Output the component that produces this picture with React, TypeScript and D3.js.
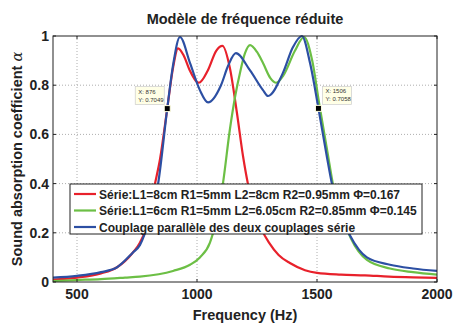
import React from 'react';
import * as d3 from 'd3';

// series: serie 1 (red), serie 2 (green), parallel coupling (blue)
const redFreq = [400, 500, 600, 667, 733, 762, 800, 821, 846, 876, 900, 921, 945, 970, 1008, 1045, 1080, 1106, 1137, 1166, 1192, 1212, 1240, 1271, 1300, 1340, 1387, 1450, 1500, 1600, 1700, 1800, 1900, 2000];
const redAlpha = [0.01, 0.018, 0.035, 0.06, 0.12, 0.16, 0.26, 0.38, 0.5, 0.705, 0.87, 0.95, 0.92, 0.86, 0.81, 0.86, 0.94, 0.96, 0.87, 0.69, 0.51, 0.4, 0.29, 0.21, 0.16, 0.11, 0.077, 0.048, 0.037, 0.03, 0.027, 0.022, 0.019, 0.017];

const greenFreq = [400, 500, 600, 700, 762, 900, 971, 1012, 1054, 1080, 1108, 1137, 1160, 1179, 1200, 1221, 1250, 1275, 1305, 1330, 1360, 1408, 1446, 1480, 1510, 1545, 1566, 1600, 1640, 1708, 1804, 1900, 2000];
const greenAlpha = [0.004, 0.008, 0.012, 0.018, 0.022, 0.045, 0.07, 0.1, 0.16, 0.25, 0.4, 0.62, 0.76, 0.85, 0.93, 0.963, 0.935, 0.89, 0.83, 0.81, 0.84, 0.94, 0.996, 0.9, 0.72, 0.52, 0.4, 0.28, 0.18, 0.09, 0.055, 0.04, 0.03];

const blueFreq = [400, 500, 600, 667, 733, 762, 800, 838, 876, 900, 929, 971, 1012, 1046, 1100, 1130, 1162, 1221, 1275, 1296, 1358, 1400, 1437, 1471, 1506, 1541, 1562, 1600, 1637, 1708, 1804, 1900, 2000];
const blueAlpha = [0.018, 0.025, 0.04, 0.06, 0.12, 0.15, 0.25, 0.4, 0.705, 0.88, 0.996, 0.89, 0.78, 0.73, 0.8, 0.88, 0.93, 0.86, 0.78, 0.756, 0.85, 0.955, 1.0, 0.89, 0.706, 0.51, 0.4, 0.27, 0.19, 0.1, 0.07, 0.055, 0.045];

const legendLabels = [
  'Série:L1=8cm R1=5mm L2=8cm R2=0.95mm Φ=0.167',
  'Série:L1=6cm R1=5mm L2=6.05cm R2=0.85mm Φ=0.145',
  'Couplage parallèle des deux couplages série',
];
const colors = ['#e8212b', '#6cbf45', '#2c4fa3'];

const xTicks = [500, 1000, 1500, 2000];
const yTicks = [0, 0.2, 0.4, 0.6, 0.8, 1];

const tips = [
  { f: 876, a: 0.7049 },
  { f: 1506, a: 0.7058 },
];

const W = 453;
const H = 324;
const margin = { top: 36, right: 16, bottom: 42, left: 53 };

const App = () => {
  const width = W - margin.left - margin.right;
  const height = H - margin.top - margin.bottom;

  const x = d3.scaleLinear().domain([400, 2000]).range([0, width]);
  const y = d3.scaleLinear().domain([0, 1]).range([height, 0]);

  const line = d3
    .line<[number, number]>()
    .x((d) => x(d[0]))
    .y((d) => y(d[1]))
    .curve(d3.curveMonotoneX);

  const series = [
    redFreq.map((f, i) => [f, redAlpha[i]] as [number, number]),
    greenFreq.map((f, i) => [f, greenAlpha[i]] as [number, number]),
    blueFreq.map((f, i) => [f, blueAlpha[i]] as [number, number]),
  ];

  const font = 'Liberation Sans, Arial, Helvetica, sans-serif';

  return (
    <svg width={W} height={H} style={{ position: 'absolute', left: 0, top: 0, background: '#fff' }} fontFamily={font}>
      <text x={245} y={24} textAnchor="middle" fontSize={14.5} fontWeight="bold" fill="#222">
        Modèle de fréquence réduite
      </text>
      <text
        transform={`translate(22,${margin.top + height / 2}) rotate(-90)`}
        textAnchor="middle"
        fontSize={14.5}
        fontWeight="bold"
        fill="#222"
      >
        Sound absorption coefficient <tspan fontFamily="DejaVu Serif, serif" fontWeight="normal" fontStyle="italic">α</tspan>
      </text>
      <text x={margin.left + width / 2} y={320} textAnchor="middle" fontSize={14.5} fontWeight="bold" fill="#222">
        Frequency (Hz)
      </text>
      <g transform={`translate(${margin.left},${margin.top})`}>
        <defs>
          <clipPath id="plot">
            <rect x={0} y={-2} width={width} height={height + 2} />
          </clipPath>
        </defs>
        {/* grid */}
        {xTicks.slice(0, -1).map((t) => (
          <line key={'gx' + t} x1={x(t)} x2={x(t)} y1={0} y2={height} stroke="#999" strokeWidth={0.8} strokeDasharray="1,2" />
        ))}
        {yTicks.slice(1, -1).map((t) => (
          <line key={'gy' + t} x1={0} x2={width} y1={y(t)} y2={y(t)} stroke="#999" strokeWidth={0.8} strokeDasharray="1,2" />
        ))}
        {/* curves */}
        <g clipPath="url(#plot)">
          {series.map((s, i) => (
            <path key={i} d={line(s) || ''} fill="none" stroke={colors[i]} strokeWidth={2.2} />
          ))}
        </g>
        {/* box */}
        <rect x={0} y={0} width={width} height={height} fill="none" stroke="#222" strokeWidth={1} />
        {/* ticks */}
        {xTicks.map((t) => (
          <g key={'tx' + t}>
            <line x1={x(t)} x2={x(t)} y1={height} y2={height - 3} stroke="#222" />
            <line x1={x(t)} x2={x(t)} y1={0} y2={3} stroke="#222" />
            <text x={x(t)} y={height + 17} textAnchor="middle" fontSize={14} fontWeight="bold" fill="#222">
              {t}
            </text>
          </g>
        ))}
        {yTicks.map((t) => (
          <g key={'ty' + t}>
            <line x1={0} x2={3} y1={y(t)} y2={y(t)} stroke="#222" />
            <line x1={width} x2={width - 3} y1={y(t)} y2={y(t)} stroke="#222" />
            <text x={-4} y={y(t) + 5} textAnchor="end" fontSize={14} fontWeight="bold" fill="#222">
              {t}
            </text>
          </g>
        ))}
        {/* data tips */}
        {tips.map((d, i) => {
          const px = x(d.f);
          const py = y(d.a);
          const bx = i === 0 ? px - 32 : px + 4;
          return (
            <g key={'tip' + i}>
              <rect x={bx} y={py - 22} width={29} height={18} fill="#ffffe6" stroke="#ccc" strokeWidth={0.7} />
              <text x={bx + 3} y={py - 15} fontSize={6} fill="#333">
                X: {d.f}
              </text>
              <text x={bx + 3} y={py - 7} fontSize={6} fill="#333">
                Y: {d.a}
              </text>
              <rect x={px - 3} y={py - 3} width={6} height={6} fill="#000" stroke="#ffffe0" strokeWidth={1} />
            </g>
          );
        })}
        {/* legend */}
        <g transform={`translate(${70 - margin.left},${184 - margin.top})`}>
          <rect x={0} y={0} width={352} height={50} fill="#fff" stroke="#222" strokeWidth={1} />
          {legendLabels.map((l, i) => (
            <g key={l} transform={`translate(0,${10 + i * 16.5})`}>
              <line x1={4} x2={26} y1={0} y2={0} stroke={colors[i]} strokeWidth={2.2} />
              <text x={29} y={4.5} fontSize={12} fontWeight="bold" fill="#222">
                {l}
              </text>
            </g>
          ))}
        </g>
      </g>
    </svg>
  );
};

export default App;
